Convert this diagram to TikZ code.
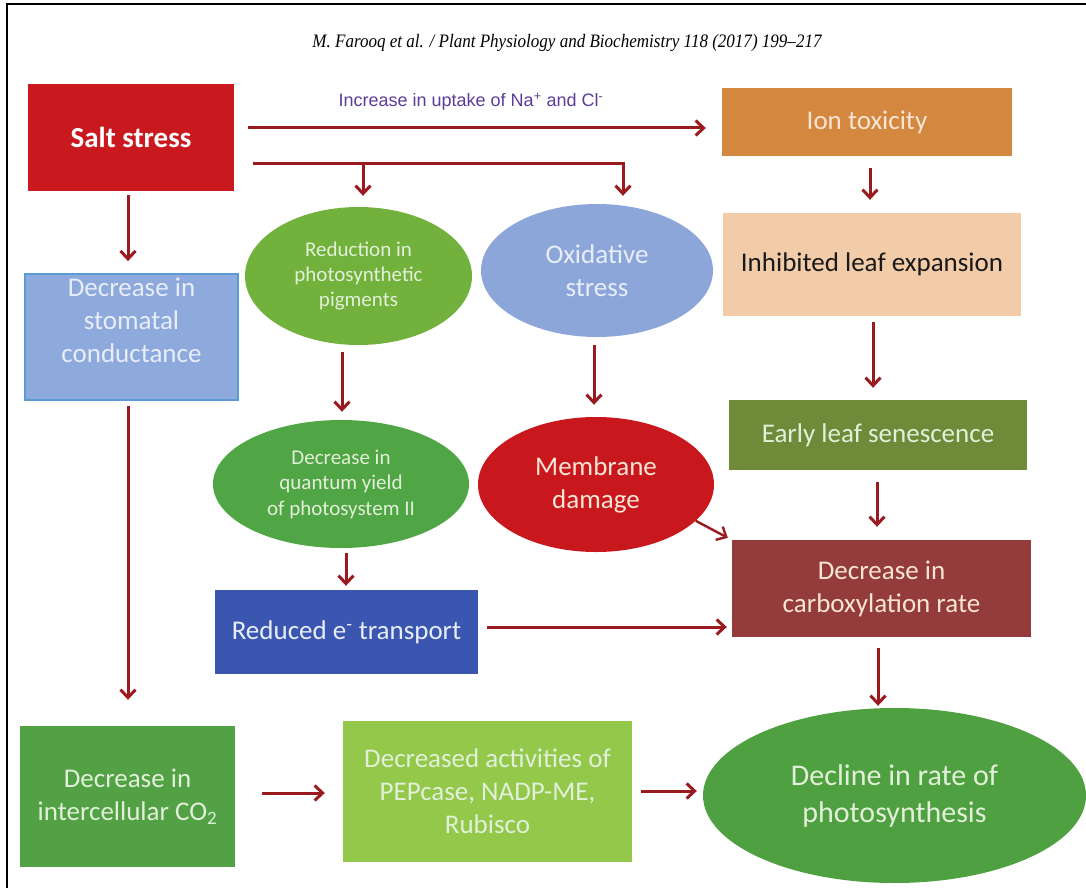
\documentclass[tikz,border=0pt]{standalone}
\usepackage{fontspec}
\usepackage{graphicx}
\setmainfont{Carlito}
\newfontfamily\arialf{Liberation Sans}
\newfontfamily\timesf{Liberation Serif}
\usetikzlibrary{shapes.geometric,arrows.meta}
\definecolor{arrc}{HTML}{991B1F}
\definecolor{saltc}{HTML}{C9191E}
\definecolor{ionc}{HTML}{D4873F}
\definecolor{inhc}{HTML}{F2CCA8}
\definecolor{purp}{HTML}{5B3D99}
\definecolor{redc}{HTML}{72B13C}
\definecolor{oxic}{HTML}{8DA6DA}
\definecolor{stomc}{HTML}{8EA9DB}
\definecolor{stomb}{HTML}{5B9BD5}
\definecolor{earlyc}{HTML}{6F8B3A}
\definecolor{quantc}{HTML}{50A544}
\definecolor{memc}{HTML}{C8181D}
\definecolor{carbc}{HTML}{943B3B}
\definecolor{redec}{HTML}{3A56B0}
\definecolor{interc}{HTML}{52A144}
\definecolor{pepc}{HTML}{93C84B}
\definecolor{declc}{HTML}{4FA040}
\definecolor{lgreen}{HTML}{E2F0D9}
\definecolor{lblue}{HTML}{E8EEF9}
\definecolor{lpeach}{HTML}{FBE5D6}
\begin{document}
\begin{tikzpicture}[x=1pt,y=-1pt,
  box/.style={rectangle, inner sep=0pt, align=center, font=\fontsize{27}{33}\selectfont},
  ell/.style={ellipse, inner sep=0pt, align=center, font=\fontsize{27}{33}\selectfont},
  arr/.style={draw=arrc, line width=3pt, -{Straight Barb[length=8pt,width=15pt]}},
  ln/.style={draw=arrc, line width=3pt}]
\useasboundingbox (0,0) rectangle (1086,888);
\fill[white] (0,0) rectangle (1086,888);
% frame
\draw[line width=2.2pt] (7,888) -- (7,4) -- (1086,4);
% header
\node (hdr) at (567,43) {\resizebox{509pt}{\height}{\timesf\itshape\fontsize{19}{22}\selectfont M. Farooq et al. / Plant Physiology and Biochemistry 118 (2017) 199\textendash 217}};

% nodes
\node[box, fill=saltc, minimum width=206pt, minimum height=107pt, text=white, font=\fontsize{29}{35}\selectfont\bfseries] (salt) at (131,137.5) {Salt stress};
\node[box, fill=ionc, minimum width=290pt, minimum height=68pt, text=lpeach] (ion) at (867,122) {Ion toxicity};
\node[box, fill=inhc, minimum width=298pt, minimum height=103pt, text=black!90] (inh) at (872,264.5) {Inhibited leaf expansion};
\node[box, fill=stomc, draw=stomb, line width=1.8pt, minimum width=213pt, minimum height=126pt, text=lblue] (stom) at (131.5,337) {Decrease in\\stomatal\\conductance\\\mbox{}};
\node[ell, fill=redc, minimum width=227pt, minimum height=138pt, text=lgreen, font=\fontsize{21}{25}\selectfont] (red) at (358.5,276) {Reduction in\\photosynthetic\\pigments};
\node[ell, fill=oxic, minimum width=232pt, minimum height=133pt, text=lblue] (oxi) at (597,270.5) {Oxidative\\stress};
\node[box, fill=earlyc, minimum width=298pt, minimum height=70pt, text=lgreen] (early) at (878,435) {Early leaf senescence};
\node[ell, fill=quantc, minimum width=256pt, minimum height=128pt, text=lgreen, font=\fontsize{21}{25.5}\selectfont] (quant) at (341,484) {Decrease in\\quantum yield\\of photosystem II};
\node[ell, fill=memc, minimum width=236pt, minimum height=135pt, text=lpeach] (mem) at (596,484.5) {Membrane\\damage};
\node[box, fill=carbc, minimum width=299pt, minimum height=97pt, text=lpeach] (carb) at (881.5,588.5) {Decrease in\\carboxylation rate};
\node[box, fill=redec, minimum width=263pt, minimum height=84pt, text=lblue] (rede) at (346.5,632) {Reduced e\textsuperscript{-} transport};
\node[box, fill=interc, minimum width=215pt, minimum height=141pt, text=lgreen] (inter) at (127.5,796.5) {Decrease in\\intercellular CO\textsubscript{2}};
\node[box, fill=pepc, minimum width=289pt, minimum height=141pt, text=lgreen] (pep) at (487.5,791.5) {Decreased activities of\\PEPcase, NADP-ME,\\Rubisco};
\node[ell, fill=declc, minimum width=383pt, minimum height=175pt, text=lgreen, font=\fontsize{30}{37}\selectfont] (decl) at (894.5,795.5) {Decline in rate of\\photosynthesis};

% label
\node[text=purp, font=\arialf\fontsize{18}{22}\selectfont] (uplbl) at (471,102) {Increase in uptake of Na\textsuperscript{+} and Cl\textsuperscript{-}};

% connectors
\draw[arr] ([shift={(14,-9.5)}]salt.east) -- ([shift={(-16,6)}]ion.west);
\coordinate (br) at ([shift={(19,25.5)}]salt.east);
\coordinate (redtip) at ([shift={(4.5,-11)}]red.north);
\draw[arr] (br) -| ([shift={(26,-8)}]oxi.north);
\draw[arr] (br -| redtip) -- (redtip);
\draw[arr] ([shift={(3,12)}]ion.south) -- ([shift={(-2,-13)}]inh.north);
\draw[arr] ([shift={(-3,4)}]salt.south) -- ([shift={(-3.5,-12)}]stom.north);
\draw[arr] ([shift={(-3.5,5)}]stom.south) -- ([shift={(0.5,-26)}]inter.north);
\draw[arr] ([shift={(-16.5,7)}]red.south) -- ([shift={(1,-8)}]quant.north);
\draw[arr] ([shift={(-3,8)}]oxi.south) -- ([shift={(-2,-12)}]mem.north);
\draw[arr] ([shift={(1,6)}]inh.south) -- ([shift={(-5,-12)}]early.north);
\draw[arr] ([shift={(-1,12)}]early.south) -- ([shift={(-4.5,-13)}]carb.north);
\draw[arr, line width=2.4pt] (mem.-20) -- ([shift={(-4,-2)}]carb.north west);
\draw[arr] ([shift={(5,5)}]quant.south) -- ([shift={(-0.5,-4)}]rede.north);
\draw[arr] ([shift={(9,-5)}]rede.east) -- ([shift={(-5,38.5)}]carb.west);
\draw[arr] ([shift={(-3.5,11)}]carb.south) -- ([shift={(-16.5,-2)}]decl.north);
\draw[arr] ([shift={(27,-3.5)}]inter.east) -- ([shift={(-18,1.5)}]pep.west);
\draw[arr] ([shift={(9,-0.5)}]pep.east) -- ([shift={(-6,-4.5)}]decl.west);
\end{tikzpicture}
\end{document}
